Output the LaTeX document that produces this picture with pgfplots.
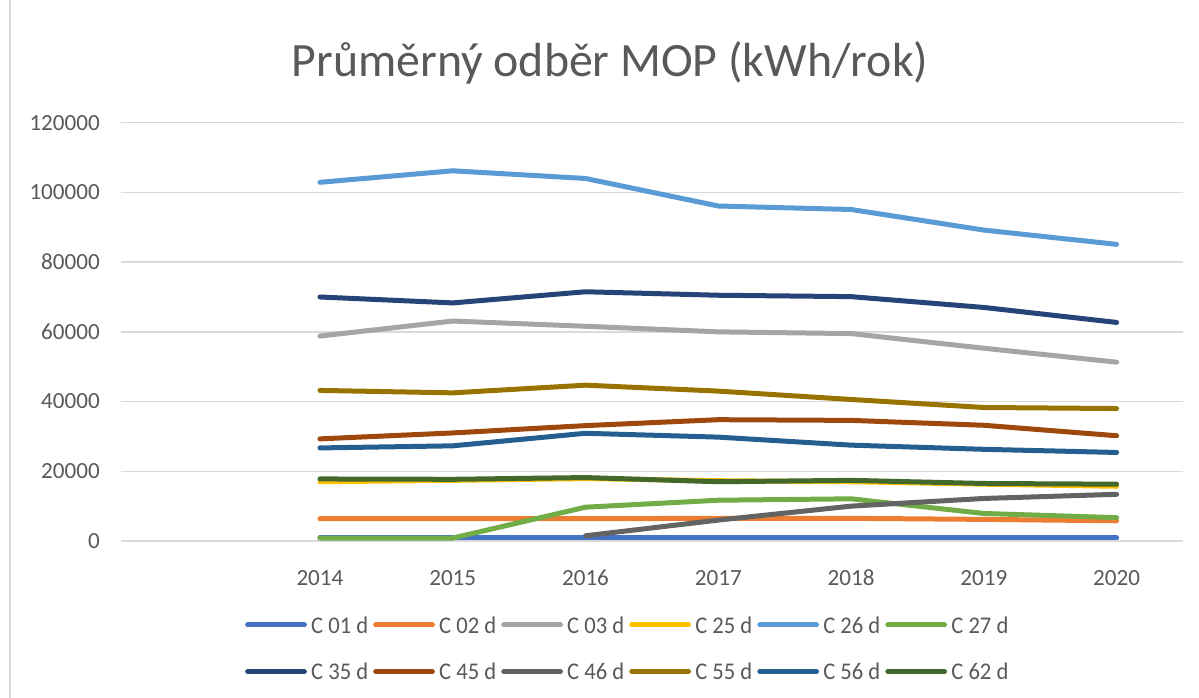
\documentclass[border=0pt]{standalone}
\usepackage{fontspec}
\setmainfont{Carlito}
\newfontfamily\legfont{Carlito}[FakeStretch=0.945]
\usepackage{pgfplots}
\pgfplotsset{compat=1.18}
\definecolor{c01}{HTML}{4472C4}
\definecolor{c02}{HTML}{ED7D31}
\definecolor{c03}{HTML}{A5A5A5}
\definecolor{c25}{HTML}{FFC000}
\definecolor{c26}{HTML}{5B9BD5}
\definecolor{c27}{HTML}{70AD47}
\definecolor{c35}{HTML}{264478}
\definecolor{c45}{HTML}{9E480E}
\definecolor{c46}{HTML}{636363}
\definecolor{c55}{HTML}{997300}
\definecolor{c56}{HTML}{255E91}
\definecolor{c62}{HTML}{43682B}
\definecolor{gridc}{HTML}{D9D9D9}
\definecolor{txt}{HTML}{595959}
\begin{document}
\begin{tikzpicture}
\begin{axis}[
  at={(0,0)}, anchor=south west,
  scale only axis, width=1062.2bp, height=418.3bp,
  xmin=-0.5, xmax=7.5, ymin=0, ymax=120000,
  xtick={1,2,3,4,5,6,7},
  xticklabels={2014,2015,2016,2017,2018,2019,2020},
  ytick={0,20000,40000,60000,80000,100000,120000},
  yticklabels={0,20000,40000,60000,80000,100000,120000},
  scaled y ticks=false,
  ymajorgrids, grid style={draw=gridc, line width=1.4bp},
  axis line style={draw=none},
  major tick length=0pt,
  tick label style={font=\fontsize{23.2}{26}\selectfont, text=txt, inner sep=0pt},
  yticklabel style={anchor=east, xshift=-20.8bp},
  xticklabel style={anchor=north, yshift=-29bp},
  every axis plot/.append style={line width=5bp, line cap=round, line join=round, no markers},
  legend columns=6,
  legend cell align=left,
  legend style={at={(0.1169,-0.2565)}, anchor=west, draw=none, fill=none,
    inner sep=0pt, font=\legfont\fontsize{24}{28}\selectfont, text=txt,
    nodes={inner sep=0pt, text depth=0pt}, row sep=30bp,
    /tikz/every odd column/.append style={column sep=4.3bp},
    /tikz/every even column/.append style={column sep=5bp}},
  legend image code/.code={\path (0bp,0bp) -- (56.7bp,0bp); \draw (2.5bp,0bp) -- (54.2bp,0bp);},
]
\addplot[c01] coordinates {(1,900) (2,900) (3,900) (4,900) (5,900) (6,900) (7,900)};
\addlegendentry{C 01 d}
\addplot[c02] coordinates {(1,6400) (2,6400) (3,6400) (4,6500) (5,6500) (6,6200) (7,5800)};
\addlegendentry{C 02 d}
\addplot[c03] coordinates {(1,58800) (2,63100) (3,61600) (4,60000) (5,59500) (6,55300) (7,51300)};
\addlegendentry{C 03 d}
\addplot[c25] coordinates {(1,17000) (2,17400) (3,17900) (4,17300) (5,17000) (6,16300) (7,15700)};
\addlegendentry{C 25 d}
\addplot[c26] coordinates {(1,102900) (2,106200) (3,104000) (4,96100) (5,95100) (6,89200) (7,85100)};
\addlegendentry{C 26 d}
\addplot[c27] coordinates {(1,850) (2,850) (3,9700) (4,11700) (5,12100) (6,7900) (7,6700)};
\addlegendentry{C 27 d}
\addplot[c35] coordinates {(1,70000) (2,68300) (3,71500) (4,70500) (5,70100) (6,67000) (7,62700)};
\addlegendentry{C 35 d}
\addplot[c45] coordinates {(1,29300) (2,31000) (3,33100) (4,34800) (5,34600) (6,33200) (7,30200)};
\addlegendentry{C 45 d}
\addplot[c46] coordinates {(3,1500) (4,6000) (5,10000) (6,12200) (7,13400)};
\addlegendentry{C 46 d}
\addplot[c55] coordinates {(1,43200) (2,42500) (3,44700) (4,43000) (5,40600) (6,38300) (7,38000)};
\addlegendentry{C 55 d}
\addplot[c56] coordinates {(1,26700) (2,27300) (3,30900) (4,29800) (5,27500) (6,26300) (7,25400)};
\addlegendentry{C 56 d}
\addplot[c62] coordinates {(1,17800) (2,17700) (3,18200) (4,17000) (5,17400) (6,16500) (7,16300)};
\addlegendentry{C 62 d}
\end{axis}
\node[anchor=base, text=txt, font=\fontsize{48}{56}\selectfont, inner sep=0pt] at (489.2bp,464bp) {Průměrný odběr MOP (kWh/rok)};
\draw[gridc, line width=2bp] (-110.8bp,-157bp) -- (-110.8bp,541bp);
\pgfresetboundingbox
\useasboundingbox (-120.8bp,-157bp) rectangle (1078.2bp,541bp);
\end{tikzpicture}
\end{document}
